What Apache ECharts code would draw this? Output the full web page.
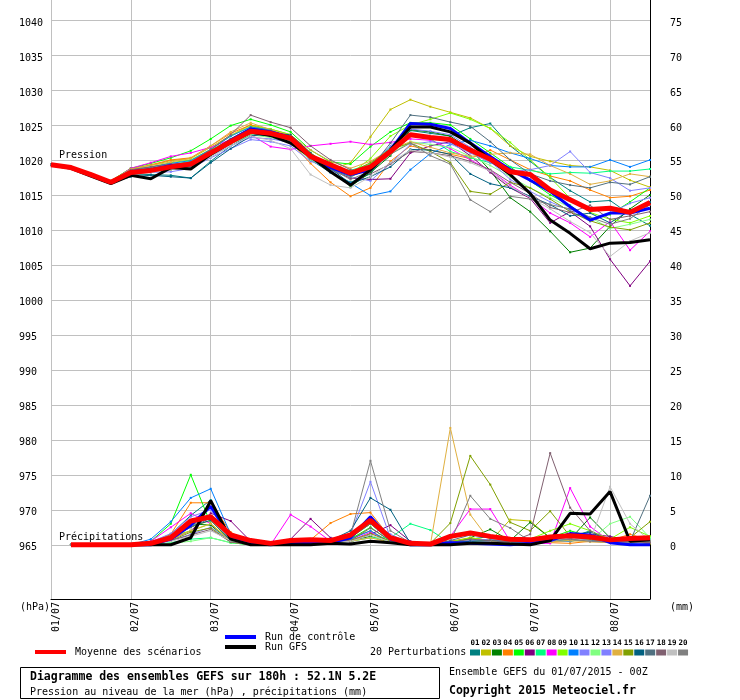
<!DOCTYPE html>
<html>
<head>
    <meta charset="UTF-8">
    <title>Diagramme des ensembles GEFS</title>
    <script src="https://cdn.jsdelivr.net/npm/echarts@6.0.0/dist/echarts.min.js"></script>
    <style>
        html, body { margin: 0; padding: 0; background: #fff; }
    </style>
</head>
<body>
<div id="main" style="width: 740px;height:700px;"></div>
<script type="text/javascript">
    // échéances (heures depuis le 01/07 00Z) et étiquettes
    var hours = [0, 6, 12, 18, 24, 30, 36, 42, 48, 54, 60, 66, 72, 78, 84, 90, 96, 102, 108, 114, 120, 126, 132, 138, 144, 150, 156, 162, 168, 174, 180];
    var dayTicks = [0, 24, 48, 72, 96, 120, 144, 168];
    var dateLabels = ['01/07', '02/07', '03/07', '04/07', '05/07', '06/07', '07/07', '08/07'];
    var pressureTicks = [965, 970, 975, 980, 985, 990, 995, 1000, 1005, 1010, 1015, 1020, 1025, 1030, 1035, 1040];
    var precipTicks = [0, 5, 10, 15, 20, 25, 30, 35, 40, 45, 50, 55, 60, 65, 70, 75];

    var memberNames = ['01', '02', '03', '04', '05', '06', '07', '08', '09', '10', '11', '12', '13', '14', '15', '16', '17', '18', '19', '20'];
    var memberColors = ['#008080', '#c0c000', '#008000', '#ff8000', '#00ff00', '#800080', '#00ff80', '#ff00ff', '#80ff00', '#0080ff',
        '#8080ff', '#80ff80', '#8080ff', '#e0b040', '#80a000', '#006080', '#507080', '#806070', '#c0c0c0', '#808080'];

    // pression (hPa)
    var presMean = [1019.3, 1018.9, 1017.9, 1016.8, 1018.2, 1018.5, 1019.0, 1019.4, 1021.0, 1022.6, 1024.1, 1023.8, 1023.1, 1020.5, 1019.3, 1018.1, 1019.0, 1021.2, 1023.6, 1023.2, 1022.9, 1021.4, 1020.1, 1018.3, 1017.9, 1015.7, 1014.3, 1012.9, 1013.1, 1012.5, 1013.9];
    var presControl = [1019.3, 1018.9, 1017.8, 1016.7, 1018.3, 1018.6, 1019.2, 1019.3, 1021.0, 1022.8, 1024.4, 1024.0, 1023.2, 1020.6, 1018.9, 1017.9, 1018.6, 1021.4, 1025.2, 1025.1, 1024.5, 1022.4, 1020.5, 1018.6, 1017.1, 1015.5, 1013.3, 1011.4, 1012.4, 1012.4, 1013.1];
    var presGfs = [1019.3, 1018.8, 1017.7, 1016.6, 1017.8, 1017.3, 1018.9, 1018.7, 1020.8, 1022.5, 1024.0, 1023.5, 1022.4, 1020.5, 1018.3, 1016.4, 1018.6, 1021.4, 1024.7, 1024.7, 1024.0, 1022.4, 1020.0, 1017.9, 1015.2, 1011.4, 1009.5, 1007.3, 1008.1, 1008.2, 1008.6];
    var pres01 = [1019.3, 1018.9, 1017.9, 1016.8, 1018.0, 1017.9, 1017.8, 1017.4, 1019.8, 1022.0, 1023.6, 1023.4, 1022.7, 1020.0, 1018.2, 1016.8, 1018.0, 1021.6, 1024.2, 1023.8, 1023.4, 1024.6, 1025.2, 1022.0, 1019.8, 1017.5, 1015.6, 1014.0, 1014.2, 1012.2, 1010.6];
    var pres02 = [1019.3, 1019.0, 1018.0, 1017.0, 1018.8, 1019.2, 1019.9, 1020.2, 1021.8, 1023.5, 1025.0, 1024.4, 1023.6, 1020.8, 1018.6, 1019.6, 1023.3, 1027.2, 1028.6, 1027.6, 1026.8, 1026.0, 1024.5, 1022.0, 1020.5, 1019.8, 1019.2, 1019.0, 1018.5, 1017.1, 1016.1];
    var pres03 = [1019.3, 1018.9, 1017.9, 1016.9, 1018.4, 1018.7, 1019.2, 1019.6, 1021.3, 1023.0, 1024.5, 1024.2, 1023.4, 1020.8, 1018.5, 1016.2, 1018.2, 1020.6, 1024.3, 1024.0, 1023.4, 1021.5, 1018.5, 1014.6, 1012.6, 1009.8, 1006.8, 1007.4, 1010.5, 1013.0, 1015.0];
    var pres04 = [1019.3, 1018.9, 1017.9, 1016.8, 1018.6, 1019.3, 1020.0, 1020.3, 1022.0, 1023.8, 1025.0, 1024.0, 1022.5, 1019.5, 1016.8, 1014.8, 1016.0, 1019.8, 1022.0, 1021.4, 1020.8, 1020.2, 1021.4, 1020.0, 1018.6, 1017.7, 1017.0, 1015.7, 1014.6, 1014.8, 1015.7];
    var pres05 = [1019.3, 1019.0, 1018.0, 1017.0, 1018.8, 1019.5, 1020.3, 1021.3, 1023.0, 1024.9, 1025.8, 1025.0, 1024.0, 1021.4, 1019.7, 1019.4, 1021.9, 1024.0, 1025.3, 1025.3, 1025.0, 1023.0, 1021.0, 1019.0, 1017.0, 1015.0, 1013.5, 1011.5, 1012.2, 1014.0, 1016.0];
    var pres06 = [1019.3, 1018.9, 1017.8, 1016.7, 1018.2, 1018.4, 1018.9, 1019.2, 1020.8, 1022.4, 1023.8, 1023.5, 1022.6, 1020.0, 1018.6, 1017.4, 1017.2, 1017.3, 1021.0, 1022.0, 1022.6, 1020.6, 1018.2, 1016.0, 1014.5, 1011.0, 1012.6, 1010.5, 1005.8, 1002.0, 1005.5];
    var pres07 = [1019.3, 1018.9, 1017.9, 1016.8, 1018.4, 1018.8, 1019.3, 1019.8, 1021.4, 1022.9, 1024.3, 1023.9, 1023.2, 1020.6, 1019.0, 1018.5, 1019.4, 1021.8, 1023.6, 1023.0, 1021.2, 1020.3, 1019.6, 1019.0, 1018.5, 1018.0, 1018.2, 1018.1, 1018.4, 1018.4, 1018.7];
    var pres08 = [1019.3, 1019.0, 1018.0, 1016.9, 1018.8, 1019.6, 1020.5, 1021.0, 1021.8, 1022.9, 1023.6, 1021.9, 1021.5, 1022.0, 1022.3, 1022.6, 1022.2, 1022.5, 1023.0, 1022.8, 1021.6, 1020.0, 1018.5, 1016.4, 1014.6, 1012.4, 1011.0, 1009.0, 1011.2, 1007.1, 1009.8];
    var pres09 = [1019.3, 1019.0, 1018.0, 1017.0, 1018.6, 1019.0, 1019.6, 1020.0, 1021.5, 1023.4, 1024.8, 1024.4, 1023.6, 1021.0, 1019.0, 1018.0, 1020.2, 1023.4, 1025.0, 1025.8, 1026.7, 1025.8, 1024.5, 1022.5, 1020.0, 1017.5, 1014.5, 1012.5, 1011.5, 1011.0, 1012.0];
    var pres10 = [1019.3, 1018.9, 1017.9, 1016.8, 1018.5, 1019.0, 1019.5, 1019.9, 1021.5, 1023.4, 1024.7, 1024.3, 1023.0, 1020.2, 1018.2, 1016.7, 1014.9, 1015.5, 1018.6, 1020.9, 1022.2, 1022.8, 1022.0, 1021.0, 1020.2, 1019.2, 1019.0, 1019.0, 1020.0, 1019.0, 1020.0];
    var pres11 = [1019.3, 1018.9, 1017.8, 1016.7, 1018.4, 1018.2, 1018.3, 1018.8, 1020.3, 1021.6, 1022.9, 1022.6, 1022.0, 1019.8, 1018.8, 1017.6, 1017.0, 1019.5, 1022.2, 1022.6, 1022.3, 1021.0, 1019.6, 1018.3, 1018.6, 1019.2, 1021.2, 1018.2, 1017.4, 1015.6, 1016.0];
    var pres12 = [1019.3, 1018.9, 1017.9, 1016.8, 1018.3, 1018.6, 1019.0, 1019.2, 1020.9, 1022.3, 1023.6, 1023.2, 1022.4, 1020.0, 1018.6, 1017.6, 1018.8, 1020.8, 1022.6, 1022.2, 1021.8, 1020.5, 1019.2, 1017.6, 1016.0, 1014.6, 1013.2, 1011.8, 1010.2, 1010.8, 1011.5];
    var pres13 = [1019.3, 1018.9, 1017.9, 1016.8, 1018.2, 1018.5, 1018.8, 1019.0, 1020.6, 1022.0, 1023.2, 1023.0, 1022.5, 1020.2, 1018.4, 1017.8, 1019.2, 1022.0, 1024.4, 1024.1, 1023.6, 1021.8, 1019.8, 1017.2, 1015.5, 1014.0, 1012.8, 1011.2, 1012.4, 1013.8, 1014.6];
    var pres14 = [1019.3, 1019.0, 1018.0, 1016.9, 1018.7, 1019.2, 1019.7, 1020.2, 1022.0, 1024.0, 1025.3, 1024.3, 1023.5, 1021.4, 1019.8, 1018.8, 1019.8, 1021.5, 1022.6, 1021.8, 1021.0, 1020.5, 1020.8, 1021.0, 1020.8, 1019.2, 1018.0, 1016.5, 1017.0, 1018.0, 1017.6];
    var pres15 = [1019.3, 1018.9, 1017.9, 1016.8, 1018.1, 1018.3, 1018.6, 1019.0, 1020.6, 1022.3, 1023.8, 1023.6, 1022.8, 1020.4, 1019.2, 1018.2, 1019.6, 1021.5, 1022.4, 1021.2, 1019.6, 1015.5, 1015.1, 1016.8, 1016.0, 1014.4, 1012.6, 1011.3, 1010.4, 1010.0, 1011.0];
    var pres16 = [1019.3, 1018.8, 1017.8, 1016.7, 1017.6, 1017.8, 1017.6, 1017.4, 1019.6, 1021.6, 1023.4, 1023.8, 1023.6, 1021.0, 1018.8, 1016.6, 1017.6, 1019.0, 1021.5, 1021.4, 1020.8, 1018.0, 1016.6, 1016.0, 1014.8, 1013.6, 1012.0, 1012.4, 1011.0, 1012.8, 1014.0];
    var pres17 = [1019.3, 1018.9, 1017.9, 1016.8, 1018.4, 1018.8, 1019.2, 1019.5, 1021.2, 1023.0, 1024.6, 1024.2, 1023.2, 1020.4, 1018.6, 1017.6, 1018.8, 1022.4, 1026.4, 1026.1, 1025.4, 1024.8, 1022.6, 1020.0, 1018.0, 1017.0, 1016.4, 1016.0, 1016.8, 1016.5, 1017.6];
    var pres18 = [1019.3, 1019.0, 1018.0, 1016.9, 1018.6, 1019.0, 1019.4, 1019.6, 1021.5, 1023.6, 1026.4, 1025.4, 1024.6, 1022.0, 1020.0, 1018.6, 1018.0, 1019.4, 1021.2, 1021.0, 1020.6, 1019.8, 1018.6, 1016.8, 1015.2, 1013.2, 1012.5, 1013.5, 1011.5, 1012.0, 1012.6];
    var pres19 = [1019.3, 1018.9, 1017.9, 1016.8, 1018.0, 1018.2, 1018.6, 1018.9, 1020.4, 1022.0, 1023.4, 1022.8, 1021.6, 1017.9, 1016.4, 1016.0, 1017.6, 1019.6, 1021.4, 1021.0, 1020.4, 1019.6, 1018.4, 1016.2, 1014.6, 1013.0, 1011.2, 1009.6, 1006.2, 1008.4, 1009.6];
    var pres20 = [1019.3, 1018.9, 1017.9, 1016.8, 1018.2, 1018.4, 1018.8, 1019.1, 1020.8, 1022.6, 1024.2, 1023.6, 1022.6, 1020.2, 1018.8, 1017.2, 1018.4, 1020.8, 1022.4, 1020.6, 1019.4, 1014.3, 1012.6, 1014.8, 1014.4, 1013.6, 1013.0, 1011.8, 1010.8, 1011.6, 1013.6];

    // précipitations (mm / 6h), pas de valeur à 0h
    var rainMean = [null, 0, 0, 0, 0, 0.2, 1.0, 3.4, 4.0, 1.4, 0.6, 0.2, 0.6, 0.7, 0.6, 1.4, 3.5, 1.0, 0.2, 0.1, 1.2, 1.7, 1.2, 0.8, 0.7, 1.1, 1.3, 1.1, 0.7, 0.9, 1.0];
    var rainControl = [null, 0, 0, 0, 0, 0, 0.8, 2.8, 5.5, 1.0, 0.2, 0, 0.3, 0.2, 0.3, 1.0, 4.0, 0.8, 0, 0, 0.3, 0.2, 0.1, 0, 0.2, 0.6, 1.6, 1.4, 0.3, 0, 0];
    var rainGfs = [null, 0, 0, 0, 0, 0, 0, 1.0, 6.3, 0.8, 0, 0, 0, 0, 0.2, 0.1, 0.5, 0.3, 0, 0, 0, 0.2, 0.2, 0.1, 0, 0.6, 4.5, 4.4, 7.6, 0.5, 0.7];
    var rain01 = [null, 0, 0, 0, 0, 0.2, 1.5, 4.2, 6.4, 1.0, 0.3, 0, 0.2, 0.3, 0.5, 1.2, 3.0, 0.6, 0, 0, 0.5, 0.8, 1.2, 0.4, 0, 0.5, 1.0, 2.0, 0.5, 0.3, 1.0];
    var rain02 = [null, 0, 0, 0, 0, 0.3, 1.0, 2.5, 3.5, 0.5, 0, 0, 0, 0.2, 0.4, 1.0, 2.0, 0.4, 0, 0, 0.3, 0.6, 0.5, 3.6, 3.4, 1.0, 0.5, 0.8, 0.3, 0.5, 0.2];
    var rain03 = [null, 0, 0, 0, 0, 0, 0.8, 3.0, 2.8, 0.4, 0, 0, 0, 0, 0.2, 0.6, 1.2, 0.3, 0.1, 0, 0.2, 1.0, 2.2, 0.6, 3.2, 1.0, 0.8, 3.9, 1.0, 0.4, 0.2];
    var rain04 = [null, 0, 0, 0, 0, 0.4, 1.5, 6.0, 6.0, 1.8, 0.2, 0, 0, 0.7, 3.1, 4.4, 4.6, 1.0, 0, 0, 0.5, 1.0, 0.6, 0.4, 0.8, 0.3, 0.2, 0.5, 0.6, 1.5, 0.6];
    var rain05 = [null, 0, 0, 0, 0, 0.5, 3.0, 10.0, 3.0, 0.3, 0, 0, 0.2, 0, 0.3, 0.8, 2.5, 0.5, 0, 0, 0.2, 0.4, 0.8, 0.3, 0.5, 1.0, 2.0, 1.2, 0.4, 0.2, 0.5];
    var rain06 = [null, 0, 0, 0, 0, 0.2, 0.8, 2.0, 4.5, 3.4, 0.5, 0, 0.8, 3.7, 1.0, 0.4, 1.5, 2.8, 0.5, 0, 0.3, 0.5, 0.3, 0.2, 0.5, 1.0, 0.8, 1.5, 1.2, 0.6, 0.3];
    var rain07 = [null, 0, 0, 0, 0, 0, 0.3, 0.8, 1.0, 0.3, 0, 0, 0, 0.2, 0.3, 0.5, 1.0, 1.0, 3.0, 2.1, 0.2, 0.5, 0.3, 0.2, 0.4, 0.5, 0.8, 0.6, 0.3, 0.5, 0.8];
    var rain08 = [null, 0, 0, 0, 0, 0.5, 2.5, 4.5, 3.0, 0.5, 0, 0, 4.3, 2.6, 0.5, 0.6, 1.8, 0.4, 0, 0, 1.2, 5.1, 5.1, 0.5, 0.2, 0.2, 8.1, 2.6, 0.5, 0.3, 0.4];
    var rain09 = [null, 0, 0, 0, 0, 0.3, 1.2, 2.0, 3.0, 0.6, 0, 0, 0, 0.3, 0.5, 1.0, 3.0, 1.0, 0.2, 0, 0.4, 1.0, 0.6, 0.4, 0.8, 2.0, 3.0, 2.0, 0.8, 2.5, 1.2];
    var rain10 = [null, 0, 0, 0, 0, 0.8, 3.3, 6.7, 8.0, 1.5, 0.2, 0, 0.2, 0.3, 0.4, 0.8, 2.0, 0.3, 0, 0, 0.2, 0.3, 0.4, 0.2, 0.3, 0.5, 0.5, 1.0, 0.4, 0.2, 0.4];
    var rain11 = [null, 0, 0, 0, 0, 0.2, 0.6, 1.5, 2.5, 0.6, 0, 0, 0.2, 0.2, 0.4, 1.5, 9.0, 1.0, 0.3, 0, 0.2, 0.4, 0.5, 0.3, 0.2, 0.6, 0.8, 0.5, 0.3, 0.6, 0.4];
    var rain12 = [null, 0, 0, 0, 0, 0, 0.2, 0.5, 1.0, 0.3, 0, 0, 0, 0.2, 0.3, 0.5, 1.0, 0.6, 0.2, 0, 0.3, 0.5, 0.6, 0.4, 0.3, 0.8, 1.2, 0.6, 3.0, 4.0, 1.0];
    var rain13 = [null, 0, 0, 0, 0, 0.4, 1.6, 4.0, 5.0, 1.0, 0.2, 0, 0.3, 0.4, 0.6, 1.2, 3.5, 1.5, 0.2, 0, 0.4, 0.6, 0.8, 0.3, 0.4, 0.8, 1.0, 0.6, 0.4, 0.3, 0.6];
    var rain14 = [null, 0, 0, 0, 0, 0.3, 0.8, 2.0, 3.0, 0.5, 0, 0, 0, 0.3, 0.4, 0.5, 1.0, 0.3, 0, 0, 16.7, 4.3, 0.5, 0.2, 0.3, 0.4, 0.6, 0.4, 0.3, 0.6, 0.2];
    var rain15 = [null, 0, 0, 0, 0, 0.2, 0.6, 1.8, 2.4, 0.4, 0, 0, 0.2, 0.3, 0.3, 0.6, 1.6, 0.5, 0.3, 0.2, 3.1, 12.7, 8.6, 3.2, 2.0, 4.8, 1.2, 0.8, 0.5, 1.0, 3.3];
    var rain16 = [null, 0, 0, 0, 0, 0.3, 1.0, 2.6, 3.5, 0.6, 0, 0, 0.2, 0.4, 0.6, 2.0, 6.7, 5.0, 0.2, 0, 0.3, 0.5, 0.6, 0.4, 0.3, 0.6, 1.4, 1.8, 0.6, 0.4, 0.5];
    var rain17 = [null, 0, 0, 0, 0, 0.4, 1.2, 2.5, 3.8, 0.7, 0.1, 0, 0.2, 0.3, 0.5, 1.0, 3.0, 0.8, 0.2, 0, 0.6, 1.4, 1.0, 0.5, 0.4, 0.6, 0.8, 0.6, 0.4, 0.5, 7.0];
    var rain18 = [null, 0, 0, 0, 0, 0.2, 0.6, 1.4, 2.2, 0.4, 0, 0, 0.1, 0.2, 0.3, 0.6, 2.4, 0.6, 0, 0, 0.3, 0.8, 0.6, 0.4, 1.5, 13.1, 5.3, 2.0, 0.6, 0.4, 0.3];
    var rain19 = [null, 0, 0, 0, 0, 0.1, 0.5, 1.2, 2.0, 0.6, 0.1, 0, 0.1, 0.2, 0.3, 0.5, 1.4, 0.4, 0.1, 0, 0.2, 0.3, 0.4, 0.2, 0.3, 0.5, 1.0, 0.5, 8.3, 3.0, 0.6];
    var rain20 = [null, 0, 0, 0, 0, 0.3, 1.0, 2.8, 4.0, 0.8, 0.1, 0, 0.2, 0.3, 0.5, 1.4, 12.0, 2.0, 0.3, 0, 0.4, 7.0, 3.7, 2.4, 0.5, 0.6, 0.8, 0.5, 0.4, 0.3, 0.5];

    var presMembers = [pres01, pres02, pres03, pres04, pres05, pres06, pres07, pres08, pres09, pres10,
        pres11, pres12, pres13, pres14, pres15, pres16, pres17, pres18, pres19, pres20];
    var rainMembers = [rain01, rain02, rain03, rain04, rain05, rain06, rain07, rain08, rain09, rain10,
        rain11, rain12, rain13, rain14, rain15, rain16, rain17, rain18, rain19, rain20];

    var mono = "'DejaVu Sans Mono', 'Liberation Mono', monospace";

    function toPoints(values) {
        return values.map(function (v, i) {
            return [hours[i], v];
        });
    }

    function memberSeries(name, values, color, axis) {
        return {
            name: name,
            type: 'line',
            yAxisIndex: axis,
            data: toPoints(values),
            symbol: 'rect',
            symbolSize: 2,
            itemStyle: {color: color},
            lineStyle: {color: color, width: 1},
            z: 2,
            silent: true
        };
    }

    function mainSeries(name, values, color, width, axis, z) {
        return {
            name: name,
            type: 'line',
            yAxisIndex: axis,
            data: toPoints(values),
            showSymbol: false,
            lineStyle: {color: color, width: width},
            itemStyle: {color: color},
            z: z,
            silent: true
        };
    }

    var series = [];
    for (var m = 0; m < memberNames.length; m++) {
        series.push(memberSeries('P' + memberNames[m], presMembers[m], memberColors[m], 0));
        series.push(memberSeries('R' + memberNames[m], rainMembers[m], memberColors[m], 1));
    }
    series.push(mainSeries('Run de contrôle', presControl, '#0000ff', 3, 0, 3));
    series.push(mainSeries('Run de contrôle', rainControl, '#0000ff', 3, 1, 3));
    series.push(mainSeries('Run GFS', presGfs, '#000000', 3, 0, 4));
    series.push(mainSeries('Run GFS', rainGfs, '#000000', 3, 1, 4));
    series.push(mainSeries('Moyenne des scénarios', presMean, '#ff0000', 5, 0, 5));
    series.push(mainSeries('Moyenne des scénarios', rainMean, '#ff0000', 5, 1, 5));

    // légende / cartouche (éléments graphiques)
    function txt(x, y, s, size, bold, align) {
        return {
            type: 'text', x: x, y: y, silent: true,
            style: {
                text: s, fill: '#000', font: (bold ? 'bold ' : '') + size + 'px ' + mono,
                textAlign: align || 'left', textVerticalAlign: 'middle'
            }
        };
    }

    function bar(x1, x2, y, color) {
        return {
            type: 'line', silent: true,
            shape: {x1: x1, y1: y, x2: x2, y2: y},
            style: {stroke: color, lineWidth: 4}
        };
    }

    var graphics = [
        txt(59, 155, 'Pression', 10),
        txt(59, 537, 'Précipitations', 10),
        txt(20, 607, '(hPa)', 10),
        txt(670, 607, '(mm)', 10),
        bar(35, 66, 652, '#ff0000'),
        txt(75, 652, 'Moyenne des scénarios', 10),
        bar(225, 256, 637, '#0000ff'),
        bar(225, 256, 647, '#000000'),
        txt(265, 637, 'Run de contrôle', 10),
        txt(265, 647, 'Run GFS', 10),
        txt(370, 652, '20 Perturbations', 10),
        {
            type: 'rect', silent: true,
            shape: {x: 20.5, y: 667.5, width: 419, height: 31},
            style: {fill: 'none', stroke: '#000', lineWidth: 1}
        },
        txt(30, 677, 'Diagramme des ensembles GEFS sur 180h : 52.1N 5.2E', 11.5, true),
        txt(30, 692, 'Pression au niveau de la mer (hPa) , précipitations (mm)', 10),
        txt(449, 672, 'Ensemble GEFS du 01/07/2015 - 00Z', 10),
        txt(449, 691, 'Copyright 2015 Meteociel.fr', 11.5, true)
    ];
    for (var k = 0; k < memberNames.length; k++) {
        var sx = 470 + k * 10.95;
        graphics.push({
            type: 'rect', silent: true,
            shape: {x: sx, y: 649.5, width: 10, height: 6},
            style: {fill: memberColors[k]}
        });
        graphics.push(txt(sx + 5, 643, memberNames[k], 7.5, true, 'center'));
    }

    var myChart = echarts.init(document.getElementById('main'));
    var option = {
        animation: false,
        backgroundColor: '#fff',
        grid: {left: 51, right: 90, top: 0, bottom: 101, containLabel: false},
        xAxis: {
            type: 'value',
            min: 0,
            max: 180,
            axisLine: {show: true, onZero: false, lineStyle: {color: '#000', width: 1}},
            axisTick: {show: false, customValues: dayTicks},
            axisLabel: {
                customValues: dayTicks,
                rotate: 90,
                margin: 3,
                verticalAlign: 'top',
                fontFamily: mono,
                fontSize: 10,
                color: '#000',
                formatter: function (v) {
                    return dateLabels[dayTicks.indexOf(v)];
                }
            },
            splitLine: {show: true, lineStyle: {color: '#c0c0c0', width: 1}}
        },
        yAxis: [{
            type: 'value',
            position: 'left',
            min: 957.25,
            max: 1042.85,
            axisLine: {show: true, lineStyle: {color: '#c0c0c0'}},
            axisTick: {show: false, customValues: pressureTicks},
            axisLabel: {
                customValues: pressureTicks,
                align: 'left',
                verticalAlign: 'top',
                lineHeight: 6,
                margin: 32,
                fontFamily: mono,
                fontSize: 10,
                color: '#000',
                formatter: function (v) {
                    return String(v);
                }
            },
            splitLine: {show: true, lineStyle: {color: '#c0c0c0', width: 1}}
        }, {
            type: 'value',
            position: 'right',
            min: -7.75,
            max: 77.85,
            axisLine: {show: true, lineStyle: {color: '#000'}},
            axisTick: {show: false, customValues: precipTicks},
            axisLabel: {
                customValues: precipTicks,
                align: 'left',
                verticalAlign: 'top',
                lineHeight: 6,
                margin: 20,
                fontFamily: mono,
                fontSize: 10,
                color: '#000',
                formatter: function (v) {
                    return String(v);
                }
            },
            splitLine: {show: false}
        }],
        graphic: graphics,
        series: series
    };
    myChart.setOption(option);
</script>
</body>
</html>
